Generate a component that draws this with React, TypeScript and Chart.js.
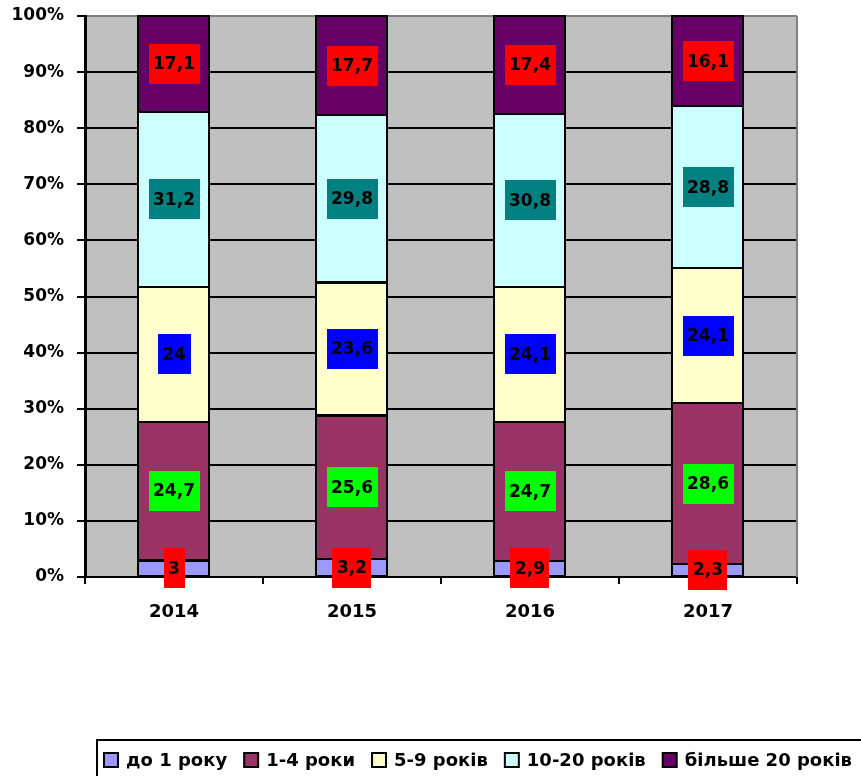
import React, { useEffect, useRef } from 'react';
import { Chart, registerables } from 'chart.js';

Chart.register(...registerables);

const categories = ['2014', '2015', '2016', '2017'];
const seriesNames = ['до 1 року', '1-4 роки', '5-9 років', '10-20 років', 'більше 20 років'];
const upTo1Year = [3, 3.2, 2.9, 2.3];
const years1to4 = [24.7, 25.6, 24.7, 28.6];
const years5to9 = [24, 23.6, 24.1, 24.1];
const years10to20 = [31.2, 29.8, 30.8, 28.8];
const over20Years = [17.1, 17.7, 17.4, 16.1];
const yTickValues = [0, 10, 20, 30, 40, 50, 60, 70, 80, 90, 100];

const seriesValues = [upTo1Year, years1to4, years5to9, years10to20, over20Years];
const fillColors = ['#9999FF', '#993366', '#FFFFCC', '#CCFFFF', '#660066'];
const labelBgColors = ['#FF0000', '#00FF00', '#0000FF', '#008080', '#FF0000'];

const FONT = '"DejaVu Sans", Verdana, sans-serif';

const totals = categories.map((_, i) => seriesValues.reduce((s, arr) => s + arr[i], 0));

const plotBgPlugin = {
  id: 'plotBg',
  beforeDraw(chart: any) {
    const { ctx, chartArea: a } = chart;
    ctx.save();
    ctx.fillStyle = '#C0C0C0';
    ctx.fillRect(a.left, a.top, a.right - a.left, a.bottom - a.top);
    ctx.restore();
  },
  beforeDatasetsDraw(chart: any) {
    const { ctx, chartArea: a } = chart;
    ctx.save();
    ctx.strokeStyle = '#808080';
    ctx.lineWidth = 2;
    ctx.beginPath();
    ctx.moveTo(a.right, a.top);
    ctx.lineTo(a.right, a.bottom);
    ctx.stroke();
    ctx.restore();
  },
};

const labelPlugin = {
  id: 'segLabels',
  afterDatasetsDraw(chart: any) {
    const { ctx } = chart;
    ctx.save();
    // segment outlines
    ctx.strokeStyle = '#000';
    ctx.lineWidth = 2;
    chart.data.datasets.forEach((_: any, di: number) => {
      const meta = chart.getDatasetMeta(di);
      meta.data.forEach((el: any) => {
        const half = el.width / 2;
        const top = Math.min(el.y, el.base);
        const bottom = Math.max(el.y, el.base);
        ctx.strokeRect(Math.round(el.x - half), Math.round(top), Math.round(el.width), Math.round(bottom - top));
      });
    });
    ctx.font = `bold 17px ${FONT}`;
    ctx.textAlign = 'center';
    ctx.textBaseline = 'middle';
    chart.data.datasets.forEach((ds: any, di: number) => {
      const meta = chart.getDatasetMeta(di);
      meta.data.forEach((el: any, i: number) => {
        const raw = ds.rawValues[i];
        const text = String(raw).replace('.', ',');
        const w = ctx.measureText(text).width + 9;
        const h = 40;
        const cx = el.x;
        const cy = (el.y + el.base) / 2;
        ctx.fillStyle = labelBgColors[di];
        ctx.fillRect(Math.round(cx - w / 2), Math.round(cy - h / 2), Math.round(w), h);
        ctx.fillStyle = '#000';
        ctx.fillText(text, cx, cy + 1);
      });
    });
    ctx.restore();
  },
};

const legendPlugin = {
  id: 'customLegend',
  afterDraw(chart: any) {
    const { ctx } = chart;
    ctx.save();
    ctx.strokeStyle = '#000';
    ctx.lineWidth = 2;
    ctx.strokeRect(97, 740, 900, 80);
    ctx.font = `bold 18px ${FONT}`;
    ctx.textBaseline = 'middle';
    ctx.textAlign = 'left';
    let x = 104;
    const cy = 760;
    chart.data.datasets.forEach((ds: any) => {
      ctx.fillStyle = ds.backgroundColor;
      ctx.fillRect(x, cy - 7, 14, 14);
      ctx.lineWidth = 2;
      ctx.strokeStyle = '#000';
      ctx.strokeRect(x, cy - 7, 14, 14);
      ctx.fillStyle = '#000';
      ctx.fillText(ds.label, x + 22, cy + 1);
      x += 22 + ctx.measureText(ds.label).width + 17;
    });
    ctx.restore();
  },
};

export default function App() {
  const canvasRef = useRef<HTMLCanvasElement>(null);

  useEffect(() => {
    document.body.style.margin = '0';
    const canvas = canvasRef.current;
    if (!canvas) return;
    const chart = new Chart(canvas, {
      type: 'bar',
      data: {
        labels: categories,
        datasets: seriesNames.map((name, di) => ({
          label: name,
          data: seriesValues[di].map((v, i) => (v / totals[i]) * 100),
          rawValues: seriesValues[di],
          backgroundColor: fillColors[di],
          borderWidth: 0,
          barPercentage: 0.4,
          categoryPercentage: 1.0,
        })) as any,
      },
      options: {
        animation: false,
        responsive: false,
        maintainAspectRatio: false,
        layout: { padding: { left: 0, top: 16, right: 64, bottom: 139 } },
        plugins: {
          legend: { display: false },
          tooltip: { enabled: false },
        },
        scales: {
          x: {
            stacked: true,
            afterFit(s: any) {
              s.height = 60;
              s.paddingLeft = 0;
              s.paddingRight = 0;
            },
            grid: {
              display: true,
              drawOnChartArea: false,
              drawTicks: true,
              tickLength: 7,
              color: '#000',
              lineWidth: 2,
              offset: true,
            },
            border: { display: true, color: '#000', width: 2 },
            ticks: {
              color: '#000',
              font: { family: FONT, size: 18, weight: 'bold' },
              padding: 18,
              maxRotation: 0,
            },
          },
          y: {
            stacked: true,
            min: 0,
            max: 100,
            afterFit(s: any) {
              s.width = 85;
              s.paddingTop = 0;
              s.paddingBottom = 0;
            },
            afterBuildTicks(s: any) {
              s.ticks = yTickValues.map((v) => ({ value: v }));
            },
            grid: {
              color: (c: any) => (c.tick && c.tick.value === 100 ? '#808080' : '#000'),
              tickColor: '#000',
              lineWidth: 2,
              tickLength: 8,
            },
            border: { display: true, color: '#000', width: 3 },
            ticks: {
              color: '#000',
              font: { family: FONT, size: 17, weight: 'bold' },
              padding: 13,
              callback: (v: any) => `${v}%`,
            },
          },
        },
      },
      plugins: [plotBgPlugin, labelPlugin, legendPlugin],
    });
    return () => chart.destroy();
  }, []);

  return <canvas ref={canvasRef} width={861} height={776} style={{ display: 'block' }} />;
}
